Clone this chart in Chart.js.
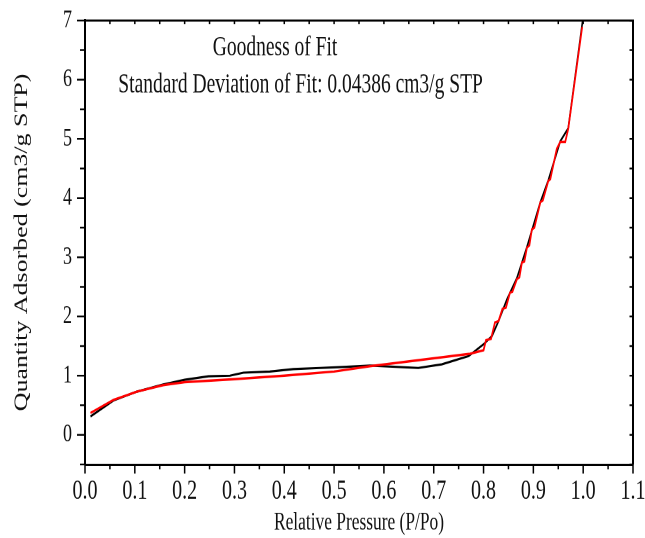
<!DOCTYPE html>
<html><head><meta charset="utf-8">
<script src="https://cdn.jsdelivr.net/npm/chart.js@4.4.1/dist/chart.umd.min.js"></script>
<style>
html,body{margin:0;padding:0;background:#fff;overflow:hidden;}
#wrap{position:absolute;left:0;top:0;width:645px;height:384px;transform:scaleY(1.401);transform-origin:0 0;}
</style></head><body>
<div id="wrap"><canvas id="c"></canvas></div>
<script>
// Measured isotherm (black)
const measuredP = [0.011,0.057,0.104,0.157,0.200,0.248,0.291,0.318,0.371,0.418,0.472,0.525,0.572,0.669,0.716,0.770,0.800,0.817,0.830,0.847,0.867,0.887,0.914,0.930,0.954,0.970,0.999];
const measuredQ = [0.31,0.58,0.73,0.85,0.93,0.99,1.00,1.05,1.07,1.11,1.13,1.15,1.17,1.13,1.19,1.33,1.53,1.67,1.92,2.29,2.65,3.17,3.93,4.30,4.96,5.18,7.00];
// Model fit (red)
const fitP = [0.011,0.057,0.104,0.157,0.200,0.300,0.400,0.500,0.572,0.773,0.800,0.805,0.815,0.823,0.830,0.838,0.845,0.853,0.858,0.867,0.872,0.877,0.882,0.887,0.892,0.897,0.902,0.914,0.919,0.930,0.934,0.947,0.954,0.964,0.970,0.998];
const fitQ = [0.37,0.59,0.73,0.84,0.89,0.94,1.00,1.07,1.16,1.37,1.43,1.60,1.62,1.90,1.92,2.13,2.15,2.40,2.42,2.63,2.66,2.91,2.93,3.16,3.20,3.47,3.50,3.93,3.96,4.29,4.32,4.83,4.95,4.95,5.17,6.89];
// Tick labels
const xTicks = [0,0.1,0.2,0.3,0.4,0.5,0.6,0.7,0.8,0.9,1.0,1.1];
const yTicks = [0,1,2,3,4,5,6,7];
// Annotation texts
const noteLines = ["Goodness of Fit", "Standard Deviation of Fit: 0.04386 cm3/g STP"];
const noteX = [0.3815, 0.4327];
const noteY = [6.53, 5.90];

const FONT = "'Liberation Serif', 'Times New Roman', serif";

const toPts = (xs, ys) => xs.map((v, i) => ({x: v, y: ys[i]}));
const mids = arr => arr.slice(0, -1).map((v, i) => (v + arr[i + 1]) / 2);
const noPad = s => { s.paddingLeft = 0; s.paddingRight = 0; s.paddingTop = 0; s.paddingBottom = 0; };

const frameTicks = {
  id: 'frameTicks',
  afterDraw(chart) {
    const {ctx, chartArea: a, scales: {x, y}} = chart;
    ctx.save();
    ctx.strokeStyle = '#000';
    ctx.lineWidth = 1.5;
    ctx.beginPath(); ctx.moveTo(a.left - 1, a.top); ctx.lineTo(a.right + 1, a.top); ctx.stroke();
    ctx.lineWidth = 2;
    ctx.beginPath(); ctx.moveTo(a.right, a.top); ctx.lineTo(a.right, a.bottom); ctx.stroke();
    // x ticks
    ctx.lineWidth = 1.5;
    const xm = xTicks, xn = mids(xTicks);
    ctx.beginPath();
    xm.forEach(v => { const p = x.getPixelForValue(v); ctx.moveTo(p, a.bottom); ctx.lineTo(p, a.bottom + 6.5); ctx.moveTo(p, a.top); ctx.lineTo(p, a.top + 2.5); });
    xn.forEach(v => { const p = x.getPixelForValue(v); ctx.moveTo(p, a.bottom); ctx.lineTo(p, a.bottom + 3.5); ctx.moveTo(p, a.top); ctx.lineTo(p, a.top + 2.5); });
    ctx.stroke();
    // y ticks
    ctx.lineWidth = 1.2;
    const ym = yTicks, yn = [-0.5].concat(mids(yTicks));
    ctx.beginPath();
    ym.forEach(v => { const p = y.getPixelForValue(v); ctx.moveTo(a.left, p); ctx.lineTo(a.left - 8, p); ctx.moveTo(a.right, p); ctx.lineTo(a.right - 3.5, p); });
    yn.forEach(v => { const p = y.getPixelForValue(v); ctx.moveTo(a.left, p); ctx.lineTo(a.left - 5, p); ctx.moveTo(a.right, p); ctx.lineTo(a.right - 3.5, p); });
    ctx.stroke();
    // annotation text
    ctx.fillStyle = '#111';
    ctx.font = "19.5px " + FONT;
    ctx.textAlign = 'center';
    ctx.textBaseline = 'middle';
    noteLines.forEach((t, i) => ctx.fillText(t, x.getPixelForValue(noteX[i]), y.getPixelForValue(noteY[i])));
    ctx.restore();
  }
};

new Chart(document.getElementById('c'), {
  type: 'scatter',
  data: {
    datasets: [
      {label: 'Measured', data: toPts(measuredP, measuredQ), showLine: true, borderColor: '#000', borderWidth: 1.6, pointRadius: 0, tension: 0, order: 2},
      {label: 'Fit', data: toPts(fitP, fitQ), showLine: true, borderColor: '#ff0000', borderWidth: 1.7, pointRadius: 0, tension: 0, order: 1}
    ]
  },
  options: {
    responsive: true,
    maintainAspectRatio: false,
    animation: false,
    devicePixelRatio: 2,
    layout: {padding: {top: 14.6, right: 12, bottom: 0, left: 0}},
    plugins: {legend: {display: false}, tooltip: {enabled: false}},
    scales: {
      x: {
        type: 'linear', min: 0, max: 1.1,
        afterBuildTicks: s => { s.ticks = xTicks.map(v => ({value: v})); },
        afterFit: s => { s.height = 52.5; noPad(s); },
        grid: {display: false, drawTicks: false},
        border: {display: true, color: '#000', width: 1.5},
        ticks: {color: '#111', font: {family: FONT, size: 20}, padding: 7, maxRotation: 0, autoSkip: false,
                callback: v => Number(v).toFixed(1)},
        title: {display: true, text: 'Relative Pressure (P/Po)', color: '#111', font: {family: FONT, size: 17.4, lineHeight: 1.2}, padding: {top: 0, bottom: 0}}
      },
      y: {
        type: 'linear', min: -0.5, max: 7,
        afterBuildTicks: s => { s.ticks = yTicks.map(v => ({value: v})); },
        afterFit: s => { s.width = 85; noPad(s); },
        grid: {display: false, drawTicks: false},
        border: {display: true, color: '#000', width: 2},
        ticks: {color: '#111', font: {family: FONT, size: 18}, padding: 13, autoSkip: false,
                callback: v => String(v)},
        title: {display: true, text: 'Quantity Adsorbed (cm3/g STP)', color: '#111', font: {family: FONT, size: 18.5, lineHeight: 1.2}, padding: {top: 11, bottom: 0}}
      }
    }
  },
  plugins: [frameTicks]
});
</script>
</body></html>
